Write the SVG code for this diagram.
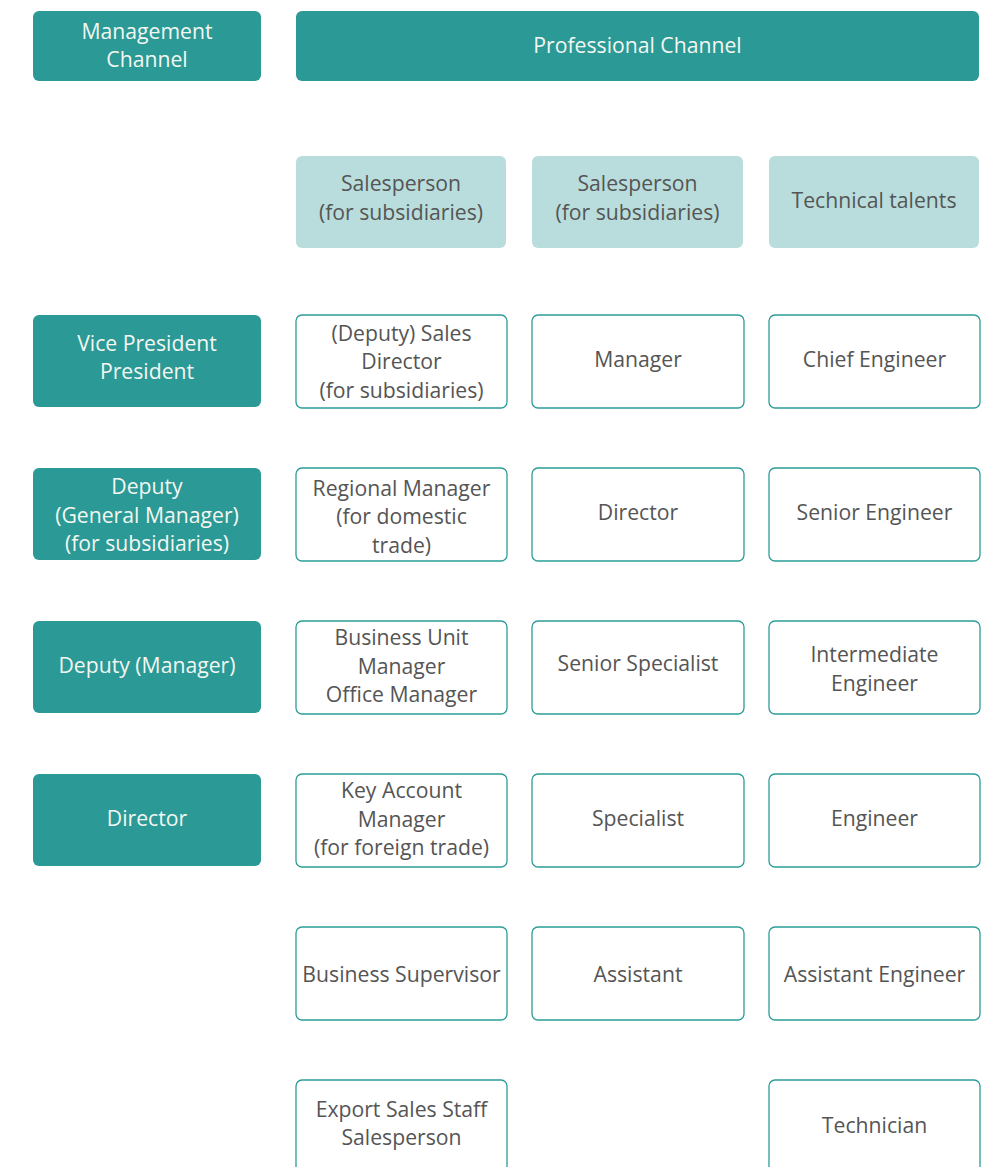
<svg xmlns="http://www.w3.org/2000/svg" width="992" height="1167" viewBox="0 0 992 1167">
<style>
.dk{fill:#2b9995}
.lt{fill:#b9dddc}
.ol{fill:#fff;stroke:#2b9d98;stroke-width:1.3}
text{font-family:"Open Sans","Liberation Sans",sans-serif;font-size:21.2px;text-anchor:middle;dominant-baseline:central}
.w{fill:#f3f7f2}
.g{fill:#555}
</style>
<rect width="992" height="1167" fill="#fff"/>
<g id="hdr-mgmt"><rect class="dk" x="33" y="11" width="228" height="70" rx="6"/><text class="w" x="147" y="30">Management</text><text class="w" x="147" y="58">Channel</text></g>
<g id="hdr-prof"><rect class="dk" x="296" y="11" width="683" height="70" rx="6"/><text class="w" x="637.5" y="44">Professional Channel</text></g>
<g id="cat1"><rect class="lt" x="296" y="156" width="210" height="92" rx="6"/><text class="g" x="401" y="182">Salesperson</text><text class="g" x="401" y="211">(for subsidiaries)</text></g>
<g id="cat2"><rect class="lt" x="532" y="156" width="211" height="92" rx="6"/><text class="g" x="637.5" y="182">Salesperson</text><text class="g" x="637.5" y="211">(for subsidiaries)</text></g>
<g id="cat3"><rect class="lt" x="769" y="156" width="210" height="92" rx="6"/><text class="g" x="874" y="199">Technical talents</text></g>

<g id="m1"><rect class="dk" x="33" y="315" width="228" height="92" rx="6"/><text class="w" x="147" y="342">Vice President</text><text class="w" x="147" y="370">President</text></g>
<g id="m2"><rect class="dk" x="33" y="468" width="228" height="92" rx="6"/><text class="w" x="147" y="485">Deputy</text><text class="w" x="147" y="514">(General Manager)</text><text class="w" x="147" y="542">(for subsidiaries)</text></g>
<g id="m3"><rect class="dk" x="33" y="621" width="228" height="92" rx="6"/><text class="w" x="147" y="664">Deputy (Manager)</text></g>
<g id="m4"><rect class="dk" x="33" y="774" width="228" height="92" rx="6"/><text class="w" x="147" y="817">Director</text></g>

<g id="s1"><rect class="ol" x="296" y="315" width="211" height="93" rx="6"/><text class="g" x="401.5" y="332">(Deputy) Sales</text><text class="g" x="401.5" y="360">Director</text><text class="g" x="401.5" y="389">(for subsidiaries)</text></g>
<g id="s2"><rect class="ol" x="296" y="468" width="211" height="93" rx="6"/><text class="g" x="401.5" y="487">Regional Manager</text><text class="g" x="401.5" y="515">(for domestic</text><text class="g" x="401.5" y="544">trade)</text></g>
<g id="s3"><rect class="ol" x="296" y="621" width="211" height="93" rx="6"/><text class="g" x="401.5" y="636">Business Unit</text><text class="g" x="401.5" y="665">Manager</text><text class="g" x="401.5" y="693">Office Manager</text></g>
<g id="s4"><rect class="ol" x="296" y="774" width="211" height="93" rx="6"/><text class="g" x="401.5" y="789">Key Account</text><text class="g" x="401.5" y="818">Manager</text><text class="g" x="401.5" y="846">(for foreign trade)</text></g>
<g id="s5"><rect class="ol" x="296" y="927" width="211" height="93" rx="6"/><text class="g" x="401.5" y="973">Business Supervisor</text></g>
<g id="s6"><rect class="ol" x="296" y="1080" width="211" height="93" rx="6"/><text class="g" x="401.5" y="1108">Export Sales Staff</text><text class="g" x="401.5" y="1136">Salesperson</text></g>

<g id="p1"><rect class="ol" x="532" y="315" width="212" height="93" rx="6"/><text class="g" x="638" y="358">Manager</text></g>
<g id="p2"><rect class="ol" x="532" y="468" width="212" height="93" rx="6"/><text class="g" x="638" y="511">Director</text></g>
<g id="p3"><rect class="ol" x="532" y="621" width="212" height="93" rx="6"/><text class="g" x="638" y="662">Senior Specialist</text></g>
<g id="p4"><rect class="ol" x="532" y="774" width="212" height="93" rx="6"/><text class="g" x="638" y="817">Specialist</text></g>
<g id="p5"><rect class="ol" x="532" y="927" width="212" height="93" rx="6"/><text class="g" x="638" y="973">Assistant</text></g>

<g id="t1"><rect class="ol" x="769" y="315" width="211" height="93" rx="6"/><text class="g" x="874.5" y="358">Chief Engineer</text></g>
<g id="t2"><rect class="ol" x="769" y="468" width="211" height="93" rx="6"/><text class="g" x="874.5" y="511">Senior Engineer</text></g>
<g id="t3"><rect class="ol" x="769" y="621" width="211" height="93" rx="6"/><text class="g" x="874.5" y="653">Intermediate</text><text class="g" x="874.5" y="682">Engineer</text></g>
<g id="t4"><rect class="ol" x="769" y="774" width="211" height="93" rx="6"/><text class="g" x="874.5" y="817">Engineer</text></g>
<g id="t5"><rect class="ol" x="769" y="927" width="211" height="93" rx="6"/><text class="g" x="874.5" y="973">Assistant Engineer</text></g>
<g id="t6"><rect class="ol" x="769" y="1080" width="211" height="93" rx="6"/><text class="g" x="874.5" y="1124">Technician</text></g>
<g id="connectors"/>
</svg>
